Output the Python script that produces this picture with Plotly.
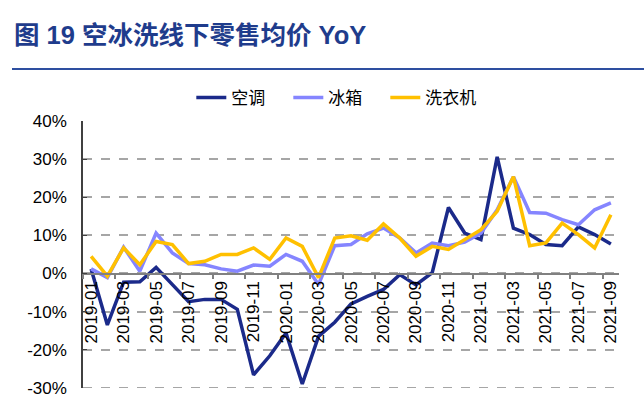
import plotly.graph_objects as go

months = [f"{y}-{m:02d}" for y in (2019, 2020, 2021) for m in range(1, 13)][:33]

ac = [1.2, -13.5, -2.3, -2.2, 1.6, -3.0, -7.4, -6.8, -6.8, -9.4, -26.6, -21.6,
      -15.6, -29.0, -16.5, -12.8, -8.0, -6.0, -4.2, -0.3, -3.0, 0.2, 17.3, 10.6,
      8.9, 30.6, 11.9, 10.2, 7.6, 7.3, 12.2, 10.2, 7.7]
fridge = [1.2, -1.1, 6.9, 0.6, 10.6, 5.4, 2.6, 2.3, 1.2, 0.6, 2.2, 1.9,
          5.0, 3.2, -2.9, 7.3, 7.6, 10.4, 11.9, 9.3, 5.4, 8.0, 7.3, 8.2,
          10.6, 16.7, 25.4, 16.0, 15.8, 14.1, 12.8, 16.7, 18.5]
washer = [4.5, -0.7, 6.7, 2.3, 8.4, 7.6, 2.6, 3.2, 5.0, 5.0, 6.7, 3.7,
          9.3, 7.1, -1.1, 9.3, 9.9, 8.7, 13.0, 9.3, 4.5, 7.1, 6.3, 8.9,
          11.5, 16.3, 25.4, 7.3, 8.0, 13.2, 10.2, 6.7, 15.4]

series_names = ["空调", "冰箱", "洗衣机"]
series_colors = ["#1B2A8A", "#8585FF", "#FFC000"]
y_ticks = [-30, -20, -10, 0, 10, 20, 30, 40]
y_tick_text = [f"{v}%" for v in y_ticks]

fig = go.Figure()
for name, vals, col in zip(series_names, [ac, fridge, washer], series_colors):
    fig.add_trace(go.Scatter(x=months, y=vals, name=name, mode="lines",
                             line=dict(color=col, width=3.5)))

fig.update_layout(
    width=644, height=394,
    margin=dict(l=83, r=25, t=121, b=6, autoexpand=False),
    paper_bgcolor="white", plot_bgcolor="white",
    font=dict(family="Liberation Sans, Arial, sans-serif", size=17, color="#000"),
    showlegend=True,
    legend=dict(orientation="h", xref="container", yref="container",
                x=0.523, y=1 - 98 / 394, xanchor="center", yanchor="middle",
                font=dict(family="Noto Sans CJK SC, sans-serif", size=17, color="#000"),
                entrywidth=52, entrywidthmode="pixels", bgcolor="rgba(0,0,0,0)"),
    title=dict(text="<b>图 19 空冰洗线下零售均价 YoY</b>", xref="container", yref="container",
               x=14 / 644, y=1 - 35 / 394, xanchor="left", yanchor="middle",
               font=dict(family="Liberation Sans, Noto Sans CJK SC, sans-serif",
                         size=25.5, color="#1F3C8C")),
    xaxis=dict(type="category", anchor="free", position=30 / 70, automargin=False,
               tickmode="linear", tick0=0, dtick=2, tickson="boundaries",
               ticks="outside", ticklen=5, tickcolor="#808080", tickwidth=1.5,
               showline=True, linecolor="#808080", linewidth=1.5,
               showgrid=False, tickangle=-90,
               tickfont=dict(size=17, color="#000"),
               range=[-0.5, 32.5]),
    yaxis=dict(range=[-30.05, 40], tickvals=y_ticks, ticktext=y_tick_text, automargin=False,
               showline=True, linecolor="#404040", linewidth=1.5,
               ticks="inside", ticklen=4, tickcolor="#404040",
               ticklabelstandoff=11, ticklabeloverflow="allow",
               showgrid=True, gridcolor="#A6A6A6", gridwidth=1.5, griddash="dash",
               zeroline=False, tickfont=dict(size=17, color="#000")),
    shapes=[dict(type="line", xref="paper", yref="paper",
                 x0=(12 - 83) / 536, x1=(644 - 83) / 536,
                 y0=(388 - 69) / 267, y1=(388 - 69) / 267,
                 line=dict(color="#2E4FA0", width=2)),
            dict(type="line", xref="paper", yref="y", x0=0, x1=1,
                 y0=y_ticks[0], y1=y_ticks[0], layer="below",
                 line=dict(color="#A6A6A6", width=1.5, dash="dash"))],
)

fig.write_html("out.html", config={"displayModeBar": False},
               post_script="document.body.style.margin='0';document.body.style.overflow='hidden';")
